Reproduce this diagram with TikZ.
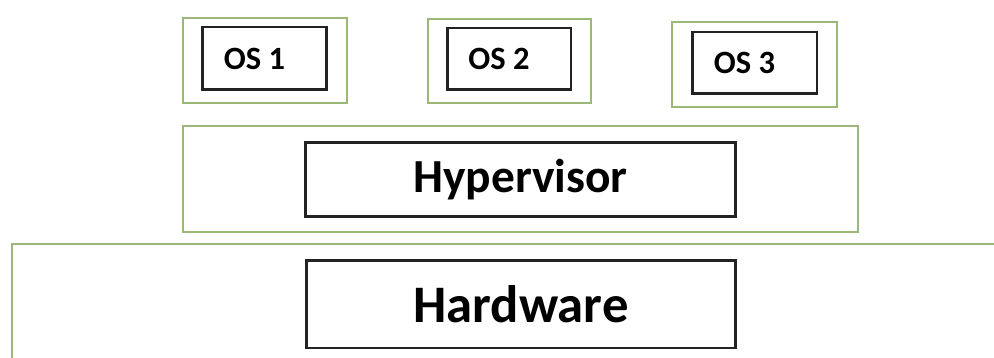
\documentclass[tikz,border=0pt]{standalone}
\usepackage{fontspec}
\setmainfont{Carlito}
\definecolor{framegreen}{RGB}{155,185,118}
\definecolor{boxline}{RGB}{35,35,35}

\begin{document}
\begin{tikzpicture}[x=0.02cm, y=-0.02cm,
    frame/.style={draw=framegreen, line width=1.4pt, inner sep=0pt},
    layerbox/.style={draw=boxline, line width=1.7pt, inner sep=0pt, font=\bfseries},
    osbox/.style={layerbox, label={[font=\bfseries\fontsize{18.5}{21}\selectfont,
        xshift=-0.2cm]center:#1}}]

    \useasboundingbox (0,0) rectangle (994,358);
    \clip (0,0) rectangle (994,358);

    % guest systems
    \node[frame, minimum width=3.28cm, minimum height=1.70cm] (os1frame) at (265,60.5) {};
    \node[frame, minimum width=3.26cm, minimum height=1.68cm] (os2frame) at (509.5,61) {};
    \node[frame, minimum width=3.30cm, minimum height=1.70cm] (os3frame) at (754.5,64.5) {};
    \node[osbox=OS 1, minimum width=2.50cm, minimum height=1.26cm] (os1) at (264.5,58.5) {};
    \node[osbox=OS 2, minimum width=2.48cm, minimum height=1.24cm] (os2) at (509,59) {};
    \node[osbox=OS 3, minimum width=2.50cm, minimum height=1.24cm] (os3) at (754.5,63) {};

    % hypervisor layer
    \node[frame, minimum width=13.50cm, minimum height=2.12cm] (hypframe) at (520.5,179) {};
    \node[layerbox, minimum width=8.62cm, minimum height=1.50cm,
          font=\bfseries\fontsize{27}{30}\selectfont] (hyp) at (520.5,179.5) {Hypervisor};

    % hardware layer (runs off the page)
    \draw[frame] (1010,244) -- (12,244) -- (12,370);
    \node[layerbox, minimum width=8.60cm, minimum height=1.76cm,
          font=\bfseries\fontsize{30}{33}\selectfont] (hw) at (521,304) {Hardware};
\end{tikzpicture}
\end{document}
